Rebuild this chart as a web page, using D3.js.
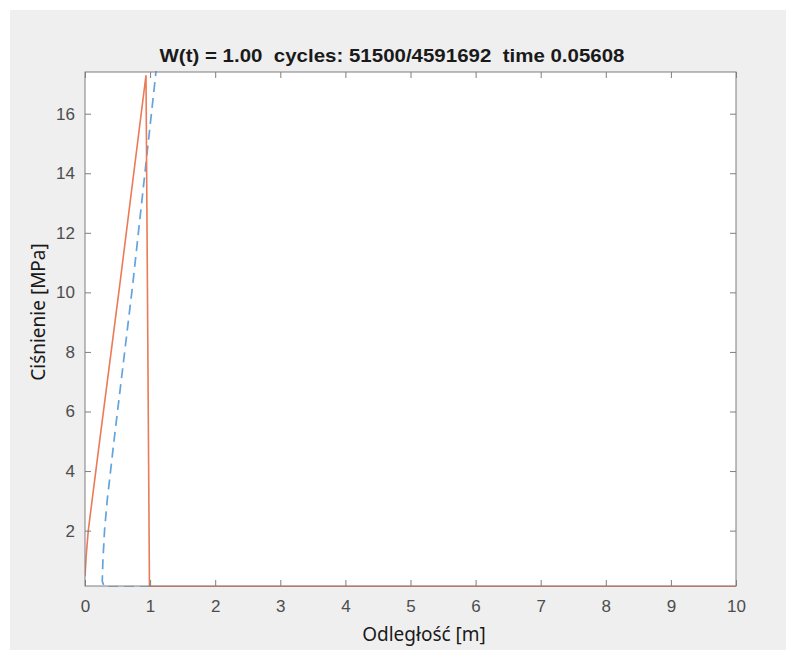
<!DOCTYPE html>
<html>
<head>
<meta charset="utf-8">
<title>Ciśnienie</title>
<script src="https://d3js.org/d3.v7.min.js"></script>
<style>
  body { margin: 0; background: #fff; }
  svg { display: block; }
</style>
</head>
<body>
<svg width="786" height="650"></svg>
<script>
// dane
var xTicks = [0, 1, 2, 3, 4, 5, 6, 7, 8, 9, 10];
var yTicks = [2, 4, 6, 8, 10, 12, 14, 16];

// ciśnienie (linia ciągła)
var redX = [0, 0.02, 0.05, 0.23, 0.54, 0.937, 0.99, 10];
var redY = [0.47, 1.2, 2.0, 5.1, 10.35, 17.29, 0.12, 0.12];

// linia przerywana
var blueX = [1.0, 0.6, 0.3, 0.265, 0.275, 0.30, 0.34, 0.45, 0.73, 1.10, 1.13];
var blueY = [0.1, 0.1, 0.1, 0.3, 1.0, 2.0, 3.0, 5.1, 10.2, 17.6, 18.2];

var titleText = "W(t) = 1.00  cycles: 51500/4591692  time 0.05608";

var svg = d3.select("svg");
var marge = {top: 72, left: 85, right: 736, bottom: 586};

// tło figury
svg.append("rect").attr("x", 10).attr("y", 10)
  .attr("width", 776).attr("height", 640).attr("fill", "#efefef");
svg.append("rect").attr("x", marge.left).attr("y", marge.top)
  .attr("width", marge.right - marge.left).attr("height", marge.bottom - marge.top)
  .attr("fill", "#fff");

var x = d3.scaleLinear().domain([0, 10]).range([marge.left, marge.right]);
var y = d3.scaleLinear().domain([0.14, 17.4]).range([marge.bottom, marge.top]);

svg.append("clipPath").attr("id", "clip")
  .append("rect").attr("x", marge.left).attr("y", marge.top - 1)
  .attr("width", marge.right - marge.left).attr("height", marge.bottom - marge.top + 2);

var line = d3.line().x(d => x(d[0])).y(d => y(d[1]));
var plot = svg.append("g").attr("clip-path", "url(#clip)");

plot.append("path")
  .attr("d", line(blueX.map((v, i) => [v, blueY[i]])))
  .attr("fill", "none").attr("stroke", "#63a3df").attr("stroke-width", 1.7)
  .attr("stroke-dasharray", "10,6");

plot.append("path")
  .attr("d", line(redX.map((v, i) => [v, redY[i]])))
  .attr("fill", "none").attr("stroke", "#eb7a58").attr("stroke-width", 1.6);

// osie (ticki do środka, jak w MATLABie)
var tickColor = "#7f7f7f";
function styleAxis(g) {
  g.select(".domain").remove();
  g.selectAll(".tick line").attr("stroke", tickColor);
  g.selectAll(".tick text").attr("fill", "#4d4d4d")
    .style("font-family", "'Liberation Sans', Arial, sans-serif").style("font-size", "17px");
}
svg.append("g").attr("transform", "translate(0," + marge.bottom + ")")
  .call(d3.axisBottom(x).tickValues(xTicks).tickSize(-6).tickPadding(14).tickFormat(d3.format("d")))
  .call(styleAxis);
svg.append("g").attr("transform", "translate(0," + marge.top + ")")
  .call(d3.axisTop(x).tickValues(xTicks).tickSize(-6).tickFormat(""))
  .call(styleAxis);
svg.append("g").attr("transform", "translate(" + marge.left + ",0)")
  .call(d3.axisLeft(y).tickValues(yTicks).tickSize(-6).tickPadding(10).tickFormat(d3.format("d")))
  .call(styleAxis);
svg.append("g").attr("transform", "translate(" + marge.right + ",0)")
  .call(d3.axisRight(y).tickValues(yTicks).tickSize(-6).tickFormat(""))
  .call(styleAxis);

svg.append("rect").attr("x", marge.left).attr("y", marge.top)
  .attr("width", marge.right - marge.left).attr("height", marge.bottom - marge.top)
  .attr("fill", "none").attr("stroke", tickColor).attr("stroke-width", 1);

// tytuł i etykiety
svg.append("text").attr("x", 392).attr("y", 62)
  .attr("text-anchor", "middle").attr("font-weight", "bold")
  .style("font-family", "'Liberation Sans', Arial, sans-serif").style("font-size", "19px")
  .attr("textLength", 465).attr("lengthAdjust", "spacingAndGlyphs")
  .attr("fill", "#1a1a1a").attr("xml:space", "preserve")
  .text(titleText);

svg.append("text").attr("x", 424).attr("y", 641)
  .attr("text-anchor", "middle")
  .style("font-family", "'Noto Sans', sans-serif").style("font-size", "19px")
  .attr("fill", "#1a1a1a")
  .text("Odległość [m]");

svg.append("text").attr("transform", "translate(45,312) rotate(-90)")
  .attr("text-anchor", "middle")
  .style("font-family", "'Noto Sans', sans-serif").style("font-size", "19px")
  .attr("fill", "#1a1a1a")
  .text("Ciśnienie [MPa]");
</script>
</body>
</html>
